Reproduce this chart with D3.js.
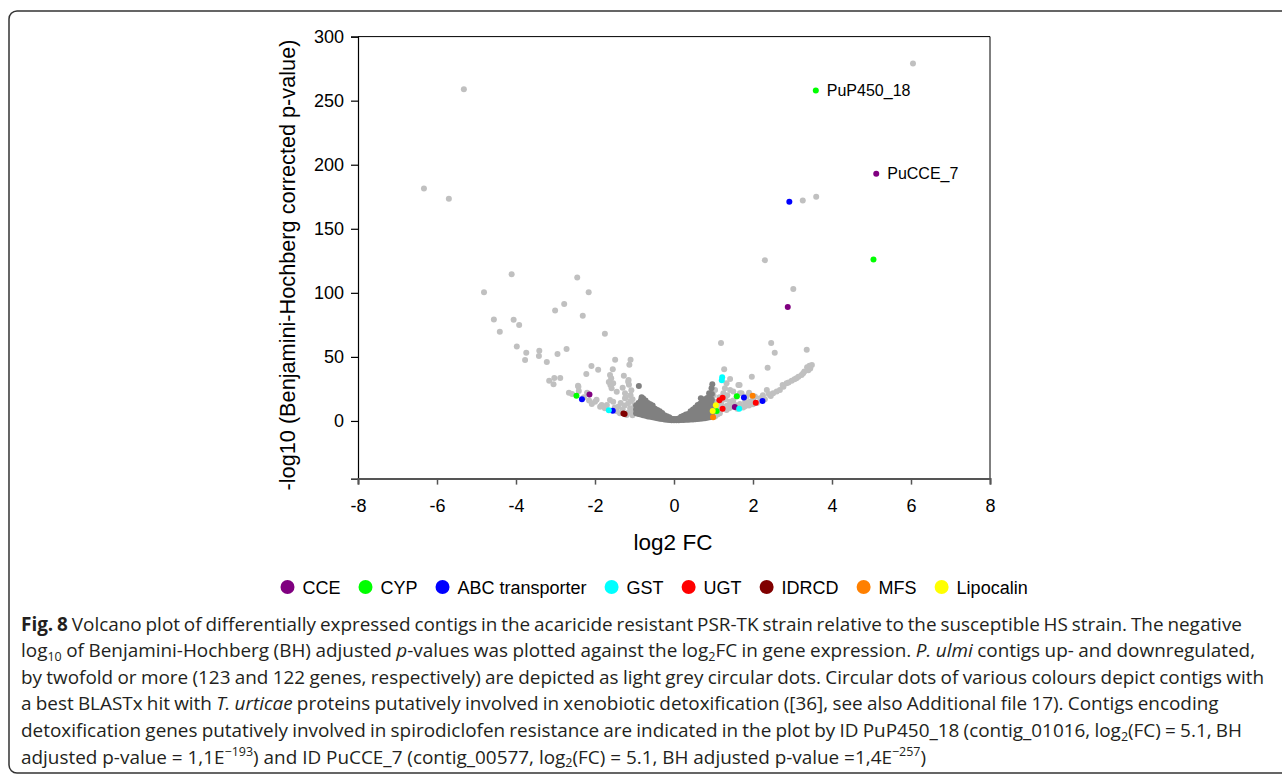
<!DOCTYPE html>
<html><head><meta charset="utf-8">
<script src="https://cdn.jsdelivr.net/npm/d3@7"></script>
<style>body{margin:0;background:#fff;} svg{display:block;}</style>
</head><body>
<svg id="chart" width="1282" height="774"></svg>
<script>
// ---------------- DATA ----------------
const xTicks = [-8, -6, -4, -2, 0, 2, 4, 6, 8];
const yTicks = [0, 50, 100, 150, 200, 250, 300];
const categories = ["CCE", "CYP", "ABC transporter", "GST", "UGT", "IDRCD", "MFS", "Lipocalin"];
const categoryColors = ["#800080", "#00ff00", "#0000ff", "#00ffff", "#ff0000", "#800000", "#ff8000", "#ffff00"];

// light grey: contigs up/down regulated twofold or more  [log2FC, -log10 p]
const sigPoints = [
  [-5.32,259],[-6.33,181.5],[-5.7,173.5],[6.05,279],[3.26,172],[3.6,175],[2.3,125.5],[3.02,103],
  [-4.11,114.6],[-2.45,112],[-4.81,100.5],[-2.16,100.5],[-2.78,91.2],[-3.01,86.3],[-2.31,82.1],
  [-4.56,79.2],[-4.06,79],[-3.92,74.8],[-4.41,69.6],[-1.75,68],[-3.98,58.2],[-3.74,53.2],[-3.41,54.8],
  [-3.42,50.7],[-3.77,47.5],[-2.95,52.2],[-2.72,56.1],[-3.22,46],[-1.49,47.8],[-1.10,47.8],[-1.13,43.9],
  [-2.09,42.9],[-1.92,40],[-1.55,40.3],[-2.22,36.6],[-1.27,35.3],[-1.59,33.3],[-1.15,32],[-1.65,30.4],
  [-1.61,28],[-1.14,28.3],[-3.16,31.4],[-3.03,33.5],[-2.88,33.5],[-3.05,28.6],[-2.43,27.5],[-2.66,22.1],
  [-2.41,23.4],[-2.20,22.1],[-1.22,18.5],[-1.96,16.6],[-2.08,13.2],[-1.87,11.1],
  [-1.03,7.3],[-1.0,12.5],[-1.11,9.9],[-1.16,13.8],[-1.2,4.7],[-1.24,17.7],[-1.37,6],[-1.41,11],
  [-1.54,15],[-1.62,16.4],[-1.75,9.9],[-1.83,12.5],[-2.0,15],[-1.05,4.5],[-1.1,15.5],[-1.3,9],
  [-1.45,7.5],[-1.5,10.5],[-1.15,6.5],[-1.25,12],[-1.35,14],[-1.05,17],[-1.1,20],[-1.7,12.5],
  [-2.15,16],[-2.28,18.5],[-2.58,21],[-2.42,26.7],[-1.62,35.8],[-1.54,29.4],[-1.16,30.6],[-1.58,25.5],
  [-1.45,22.8],[-1.24,21.6],[-1.08,24],[-1.3,26],[-1.02,10],
  [1.04,3.4],[1.16,6],[1.33,8.6],[1.46,11.1],[1.67,13.2],[1.92,15],[2.18,17.7],[2.35,24.2],[2.51,21.6],
  [2.68,24.2],[2.77,26.7],[2.85,29.4],[2.98,31.4],[3.1,33.3],[3.23,35.8],[3.27,37.2],[3.37,42],[3.43,43],
  [3.49,43.7],[3.45,41],[3.4,39.5],[1.59,19],[1.42,15],[1.25,21.6],[1.29,25.5],[1.04,24.2],[1.84,19],
  [1.71,21.6],[1.42,32.7],[1.66,28],[1.97,34.5],[1.63,28],[1.33,29.4],[1.42,24.2],[1.67,21.6],[1.27,40.3],
  [1.19,60.8],[2.46,60.8],[2.55,53.2],[3.36,55.6],[2.37,41.5],
  [1.1,12],[1.2,14],[1.3,17],[1.5,16],[1.8,15],[2.0,17],[2.05,19],[2.25,20],[2.4,21],[2.6,23],
  [1.35,12],[1.55,12.5],[1.75,10.5],[1.9,12],[2.1,14],[2.3,17],[1.25,11],[1.1,5],[1.2,9],[1.4,10],
  [1.6,9.5],[1.8,11.5],[2.0,13],[2.45,19.5],[2.75,28],[2.9,30],[3.05,32.5],[3.15,34.5],[3.3,38.5],
  [1.0,20],[1.05,15],[1.15,18.5],[1.35,20],[1.5,23],[1.9,22]
];

// dark grey: contigs below the twofold threshold  [log2FC, -log10 p]
const nonSigPoints = [
  [-0.96,6],[-0.96,9],[-0.96,12],
  [-0.90,5.5],[-0.90,8],[-0.90,11],[-0.90,14],
  [-0.84,5],[-0.84,7.5],[-0.84,10],[-0.84,13],[-0.84,16],
  [-0.78,4.5],[-0.78,7],[-0.78,9.5],[-0.78,12],[-0.78,15],[-0.78,17.5],
  [-0.72,4],[-0.72,6.5],[-0.72,9],[-0.72,11.5],[-0.72,14],[-0.72,16],
  [-0.66,3.5],[-0.66,6],[-0.66,8.5],[-0.66,11],[-0.66,14],
  [-0.60,3.2],[-0.60,5.5],[-0.60,8],[-0.60,10.5],[-0.60,13],
  [-0.54,2.8],[-0.54,5],[-0.54,7.5],[-0.54,10],[-0.54,12],
  [-0.48,2.5],[-0.48,4.8],[-0.48,7],[-0.48,9.5],
  [-0.42,2.1],[-0.42,4.3],[-0.42,6.5],[-0.42,8.5],
  [-0.36,1.8],[-0.36,3.8],[-0.36,5.8],[-0.36,7.5],
  [-0.30,1.5],[-0.30,3.3],[-0.30,5],[-0.30,6.2],
  [-0.24,1.2],[-0.24,3],[-0.24,4.5],
  [-0.18,1],[-0.18,2.6],[-0.18,3.6],
  [-0.12,0.8],[-0.12,2.2],[-0.12,2.8],
  [-0.06,0.6],[-0.06,1.8],
  [0.00,0.5],[0.00,1.6],
  [0.06,0.5],[0.06,1.6],
  [0.12,0.6],[0.12,2],
  [0.18,0.7],[0.18,2.5],[0.18,3.2],
  [0.24,0.8],[0.24,2.6],[0.24,4],
  [0.30,0.9],[0.30,3],[0.30,5],
  [0.36,1],[0.36,3.2],[0.36,5.5],
  [0.42,1.1],[0.42,3.5],[0.42,6],[0.42,7.5],
  [0.48,1.2],[0.48,3.8],[0.48,6.5],[0.48,9],
  [0.54,1.4],[0.54,4],[0.54,7],[0.54,9.5],[0.54,10.5],
  [0.60,1.6],[0.60,4.3],[0.60,7],[0.60,10],[0.60,12.5],
  [0.66,1.8],[0.66,4.5],[0.66,7.5],[0.66,10.5],[0.66,13.5],
  [0.72,2],[0.72,4.8],[0.72,8],[0.72,11],[0.72,14],[0.72,15.5],
  [0.78,2.2],[0.78,5],[0.78,8.5],[0.78,11.5],[0.78,14.5],[0.78,17],
  [0.84,2.5],[0.84,5.5],[0.84,8.5],[0.84,12],[0.84,15],[0.84,18],
  [0.90,2.8],[0.90,6],[0.90,9],[0.90,12.5],[0.90,16],[0.90,19.5],
  [0.96,3],[0.96,6],[0.96,9.5],[0.96,13],[0.96,16.5],[0.96,21],
  [-0.89,27.3],[0.97,28.6],[0.95,25.5],[0.68,17.7],[0.89,21.6],[-0.82,18.5]
];

// detoxification families  [log2FC, -log10 p]
const ccePoints       = [[5.12,193],[2.88,89],[-2.14,20.7],[1.54,10.8]];
const cypPoints       = [[3.59,258],[5.05,126],[-2.47,19.6],[1.59,19.2],[1.08,7.8]];
const abcPoints       = [[2.92,171],[-2.33,16.9],[-1.55,8],[1.77,18.3],[2.24,15.5]];
const gstPoints       = [[1.21,31.8],[1.22,34.2],[-1.65,8.3],[1.65,9.6]];
const ugtPoints       = [[1.23,18.2],[1.15,16.2],[2.07,14.3],[1.23,9.6]];
const idrcdPoints     = [[-1.28,5.8],[-1.25,5.5]];
const mfsPoints       = [[1.99,19.6],[0.99,2.9]];
const lipocalinPoints = [[1.06,12.2],[0.98,7.7]];
const familySeries = [ccePoints, cypPoints, abcPoints, gstPoints, ugtPoints, idrcdPoints, mfsPoints, lipocalinPoints];

const labelNames  = ["PuP450_18", "PuCCE_7"];
const labelPoints = [[3.59,258],[5.12,193]];

// ---------------- DRAW ----------------
(function draw() {
const svg = d3.select("#chart");

// outer rounded frame
svg.append("rect").attr("x", 9).attr("y", 11).attr("width", 1300).attr("height", 762)
  .attr("rx", 8).attr("fill", "none").attr("stroke", "#333").attr("stroke-width", 1.5);

const pL = 358, pR = 990, pT = 36.6, pB = 478.6;
const x = d3.scaleLinear().domain([-8, 8]).range([pL, pR]);
const y = d3.scaleLinear().domain([-45, 300]).range([pB, pT]);
const font = "'Liberation Sans', Arial, Helvetica, sans-serif";

const plot = svg.append("g");
const R = 3;
plot.append("g").selectAll("circle").data(sigPoints).join("circle")
  .attr("cx", d => x(d[0])).attr("cy", d => y(d[1])).attr("r", R).attr("fill", "#c0c0c0");
plot.append("g").selectAll("circle").data(nonSigPoints).join("circle")
  .attr("cx", d => x(d[0])).attr("cy", d => y(d[1])).attr("r", R).attr("fill", "#808080");
familySeries.forEach((pts, i) => {
  plot.append("g").selectAll("circle").data(pts).join("circle")
    .attr("cx", d => x(d[0])).attr("cy", d => y(d[1])).attr("r", R).attr("fill", categoryColors[i]);
});

// labels
svg.append("g").selectAll("text").data(labelNames).join("text")
  .attr("x", (d, i) => x(labelPoints[i][0]) + 11)
  .attr("y", (d, i) => y(labelPoints[i][1]) + 5.7)
  .attr("font-family", font).attr("font-size", 16).attr("fill", "#000")
  .text(d => d);

// frame (top, right)
svg.append("path").attr("d", `M${pL},${pT}H${pR}V${pB}`)
  .attr("fill", "none").attr("stroke", "#000").attr("stroke-width", 1);

// y axis
const yAxis = svg.append("g").attr("transform", `translate(${pL},0)`)
  .call(d3.axisLeft(y).tickValues(yTicks).tickSize(7).tickPadding(7).tickFormat(d3.format("d")));
yAxis.select(".domain").attr("stroke", "#000").attr("stroke-width", 1.2);
yAxis.selectAll("text").attr("font-family", font).attr("font-size", 18).attr("fill", "#000");
yAxis.selectAll(".tick line").attr("stroke", "#000").attr("stroke-width", 1.2);

// x axis
const xAxis = svg.append("g").attr("transform", `translate(0,${pB})`)
  .call(d3.axisBottom(x).tickValues(xTicks).tickSize(6).tickPadding(15));
xAxis.select(".domain").attr("stroke", "#555").attr("stroke-width", 2);
xAxis.selectAll(".tick line").attr("stroke", "#555").attr("stroke-width", 1.5);
xAxis.selectAll("text").attr("font-family", font).attr("font-size", 18).attr("fill", "#000")
  .text(d => String(d));

// axis titles
svg.append("text").attr("x", 673).attr("y", 550).attr("text-anchor", "middle")
  .attr("font-family", font).attr("font-size", 22.5).attr("fill", "#000").text("log2 FC");
svg.append("text").attr("transform", "translate(295,265) rotate(-90)").attr("text-anchor", "middle")
  .attr("font-family", font).attr("font-size", 21.7).attr("fill", "#000")
  .text("-log10 (Benjamini-Hochberg corrected p-value)");

// legend
const leg = svg.append("g").attr("font-family", font).attr("font-size", 18);
let cx = 287.5;
categories.forEach((c, i) => {
  leg.append("circle").attr("cx", cx).attr("cy", 587).attr("r", 7).attr("fill", categoryColors[i]);
  const t = leg.append("text").attr("x", cx + 15).attr("y", 593.5).attr("fill", "#000").text(c);
  const w = t.node().getComputedTextLength();
  cx = cx + 15 + w + 25;
});

// caption
const captionLines = [
  [["Fig. 8", "b"], [" Volcano plot of differentially expressed contigs in the acaricide resistant PSR-TK strain relative to the susceptible HS strain. The negative", "n"]],
  [["log", "n"], ["10", "sub"], [" of Benjamini-Hochberg (BH) adjusted ", "n"], ["p", "i"], ["-values was plotted against the log", "n"], ["2", "sub"], ["FC in gene expression. ", "n"], ["P. ulmi", "i"], [" contigs up- and downregulated,", "n"]],
  [["by twofold or more (123 and 122 genes, respectively) are depicted as light grey circular dots. Circular dots of various colours depict contigs with", "n"]],
  [["a best BLASTx hit with ", "n"], ["T. urticae", "i"], [" proteins putatively involved in xenobiotic detoxification ([36], see also Additional file 17). Contigs encoding", "n"]],
  [["detoxification genes putatively involved in spirodiclofen resistance are indicated in the plot by ID PuP450_18 (contig_01016, log", "n"], ["2", "sub"], ["(FC) = 5.1, BH", "n"]],
  [["adjusted p-value = 1,1E", "n"], ["\u2212193", "sup"], [") and ID PuCCE_7 (contig_00577, log", "n"], ["2", "sub"], ["(FC) = 5.1, BH adjusted p-value =1,4E", "n"], ["\u2212257", "sup"], [")", "n"]]
];
const lineEnds = [1242, 1255, 1264, 1218.5, 1242, 927];
const capFont = "'Open Sans', 'Noto Sans', sans-serif";
const capX = 21;
const capG = svg.append("g").attr("font-family", capFont).attr("fill", "#231f20");

function drawLine(segs, yy, fs) {
  const t = capG.append("text").attr("x", capX).attr("y", yy).attr("font-size", fs);
  let shift = 0;
  segs.forEach(([s, st]) => {
    const sp = t.append("tspan").text(s);
    let target = 0;
    if (st === "sub") target = fs * 0.2;
    if (st === "sup") target = -fs * 0.38;
    if (target !== shift) { sp.attr("dy", (target - shift).toFixed(2)); shift = target; }
    if (st === "sub" || st === "sup") sp.attr("font-size", (fs * 0.66).toFixed(2));
    if (st === "b") sp.attr("font-weight", "bold");
    if (st === "i") sp.attr("font-style", "italic");
  });
  return t;
}
const fs0 = 16;
const probe = drawLine(captionLines[5], -100, fs0);
const natural = probe.node().getComputedTextLength();
probe.remove();
const capFs = Math.max(14, Math.min(19, fs0 * (lineEnds[5] - capX) / natural));
captionLines.forEach((segs, i) => {
  const yy = 630.5 + i * 26.6;
  const t = drawLine(segs, yy, capFs);
  if (i < 5) {
    const w = t.node().getComputedTextLength();
    const txt = segs.map(s => s[0]).join("");
    const nSpaces = (txt.match(/ /g) || []).length;
    const extra = (lineEnds[i] - capX - w) / nSpaces;
    t.attr("word-spacing", extra.toFixed(2));
  }
});
})();
</script>
</body></html>
